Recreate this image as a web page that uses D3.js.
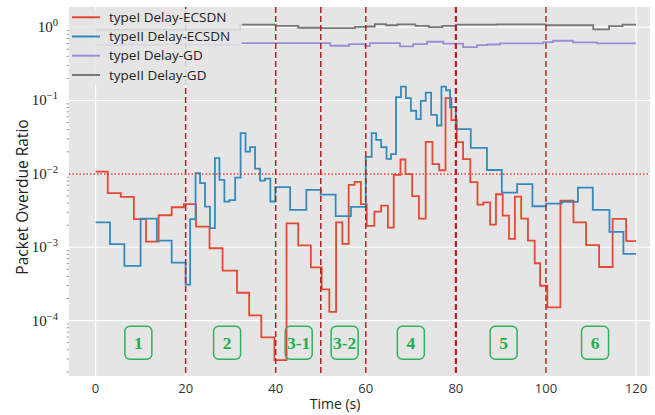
<!DOCTYPE html>
<html lang="en">
<head>
<meta charset="UTF-8">
<script src="https://d3js.org/d3.v7.min.js"></script>
<title>Packet Overdue Ratio</title>
<style>
    body { margin: 0; background: #fff; }
    svg { display: block; }
</style>
</head>
<body>
<script>
// step start times (s) and values
const redT = [0, 2.7, 5.6, 8.5, 11.2, 14.0, 16.9, 19.6, 22.3, 25.3, 28.2, 31.4, 34.1, 36.8, 39.7, 42.4, 45.0, 47.8, 50.2, 51.9,
    53.4, 54.8, 56.2, 57.5, 58.9, 60.2, 61.9, 63.4, 64.9, 66.2, 67.7, 68.8, 70.3, 71.8, 73.3, 74.8, 76.3, 77.7, 79.0, 80.2,
    81.6, 83.2, 84.8, 86.1, 87.6, 88.9, 90.4, 91.8, 93.1, 94.5, 96.0, 97.5, 98.7, 100.3, 103.2, 106.1, 108.9, 111.8, 114.8, 117.8]
const redV = [0.0107, 0.00546, 0.00485, 0.00241, 0.00119, 0.00273, 0.00351, 0.00386, 0.00191, 0.00097, 0.00048, 0.00024, 0.000118, 5.9e-5, 2.9e-5, 0.00212, 0.00106, 0.000533, 0.000267, 0.000132,
    0.00219, 0.00111, 0.00708, 0.00778, 0.00386, 0.00195, 0.00306, 0.0037, 0.00185, 0.0097, 0.0157, 0.0099, 0.00496, 0.00246, 0.0273, 0.0136, 0.0112, 0.108, 0.054, 0.027,
    0.0159, 0.0077, 0.0038, 0.0041, 0.00204, 0.00528, 0.0027, 0.0013, 0.0049, 0.00246, 0.00123, 0.000605, 0.000299, 0.000152, 0.00432, 0.00219, 0.00107, 0.000538, 0.00243, 0.00121]

const blueT = [0, 3.2, 6.4, 10.0, 13.6, 16.9, 20.0, 21.0, 22.2, 23.2, 24.3, 25.4, 26.5, 27.5, 28.6, 29.7, 31.0, 32.2, 33.3, 34.3,
    35.4, 36.5, 37.6, 38.8, 39.9, 43.2, 46.8, 50.0, 53.3, 56.7, 60.0, 61.3, 62.3, 63.4, 64.6, 65.6, 66.7, 67.8, 68.9, 70.0,
    71.2, 72.2, 73.3, 74.5, 75.8, 76.8, 77.8, 78.7, 80.0, 83.3, 86.9, 90.2, 93.6, 97.0, 100.0, 103.5, 107.1, 110.4, 114.1, 117.2]
const blueV = [0.00219, 0.0011, 0.000556, 0.00246, 0.00123, 0.000616, 0.000309, 0.00241, 0.0102, 0.00747, 0.00358, 0.00182, 0.0164, 0.00828, 0.00419, 0.00438, 0.0089, 0.0359, 0.0201, 0.0231,
    0.0118, 0.0081, 0.00863, 0.0042, 0.0066, 0.00323, 0.00605, 0.00522, 0.00265, 0.00355, 0.0171, 0.0359, 0.0291, 0.0231, 0.016, 0.0186, 0.111, 0.155, 0.108, 0.0725,
    0.0557, 0.099, 0.128, 0.0638, 0.0456, 0.155, 0.138, 0.0813, 0.0407, 0.0226, 0.0113, 0.00556, 0.00724, 0.00362, 0.00394, 0.00415, 0.0065, 0.00323, 0.00162, 0.00081]

const purpleT = [0, 32.1, 52.1, 56.3, 59.8, 60.9, 67.6, 70.5, 73.6, 77.2, 81.6, 84.7, 86.9, 89.8, 99.4, 101.6, 106.0, 111.3]
const purpleV = [0.575, 0.607, 0.557, 0.588, 0.55, 0.607, 0.545, 0.588, 0.632, 0.594, 0.535, 0.57, 0.58, 0.6, 0.626, 0.652, 0.618, 0.6]

const grayT = [0, 32.1, 40, 45, 50, 57.6, 60, 62, 64.5, 67, 71, 74, 77, 80, 89, 100, 110.5, 114, 117]
const grayV = [0.92, 1.08, 1.04, 0.98, 0.97, 1.01, 1.02, 1.10, 1.06, 1.09, 1.04, 1.0, 1.04, 1.08, 1.09, 1.06, 0.93, 1.03, 1.08]

const tEnd = 120
const seriesNames = ["typeI Delay-ECSDN", "typeII Delay-ECSDN", "typeI Delay-GD", "typeII Delay-GD"]
const seriesColors = ["#E24A33", "#348ABD", "#988ED5", "#777777"]

const xTicks = [0, 20, 40, 60, 80, 100, 120]
const yTickExp = [0, -1, -2, -3, -4]
const phaseLines = [20, 40, 50, 60, 80, 100]
const threshold = 0.01
const phaseLabels = ["1", "2", "3-1", "3-2", "4", "5", "6"]
const phaseLabelT = [9.5, 29.2, 45.1, 55.3, 70.0, 90.6, 110.9]
const phaseLabelY = 5e-5

const W = 655, H = 415
const pLeft = 69, pRight = 650, pTop = 7, pBottom = 376

const svg = d3.select("body").append("svg")
    .attr("width", W)
    .attr("height", H)

const x = d3.scaleLinear().domain([-5.9, 123.1]).range([pLeft, pRight])
const y = d3.scaleLog().domain([1.76e-5, 1.88]).range([pBottom, pTop])

// background
svg.append("rect")
    .attr("x", pLeft).attr("y", pTop)
    .attr("width", pRight - pLeft).attr("height", pBottom - pTop)
    .attr("fill", "#E5E5E5")

svg.append("clipPath").attr("id", "clip")
    .append("rect")
    .attr("x", pLeft).attr("y", pTop)
    .attr("width", pRight - pLeft).attr("height", pBottom - pTop)

// grid
svg.append("g").selectAll("line")
    .data(xTicks)
    .join("line")
    .attr("x1", d => x(d)).attr("x2", d => x(d))
    .attr("y1", pTop).attr("y2", pBottom)
    .attr("stroke", "#fff").attr("stroke-width", 1.2)

svg.append("g").selectAll("line")
    .data(yTickExp)
    .join("line")
    .attr("x1", pLeft).attr("x2", pRight)
    .attr("y1", d => y(Math.pow(10, d))).attr("y2", d => y(Math.pow(10, d)))
    .attr("stroke", "#fff").attr("stroke-width", 1.2)

// minor ticks on the log axis
const minor = []
for (let e = -5; e <= 0; e++) {
    for (let k = 2; k <= 9; k++) {
        const v = k * Math.pow(10, e)
        if (v > y.domain()[0] && v < y.domain()[1]) minor.push(v)
    }
}
svg.append("g").selectAll("line")
    .data(minor)
    .join("line")
    .attr("x1", pLeft - 2.5).attr("x2", pLeft)
    .attr("y1", d => y(d)).attr("y2", d => y(d))
    .attr("stroke", "#888").attr("stroke-width", 0.8)

// step lines
const line = d3.line()
    .x(d => x(d[0]))
    .y(d => y(d[1]))
    .curve(d3.curveStepAfter)

function steps(ts, vs) {
    const pts = ts.map((t, i) => [t, vs[i]])
    pts.push([tEnd, vs[vs.length - 1]])
    return pts
}

const series = [
    steps(redT, redV),
    steps(blueT, blueV),
    steps(purpleT, purpleV),
    steps(grayT, grayV)
]

const plot = svg.append("g").attr("clip-path", "url(#clip)")

plot.selectAll("path.series")
    .data(series)
    .join("path")
    .attr("class", "series")
    .attr("d", line)
    .attr("fill", "none")
    .attr("stroke", (d, i) => seriesColors[i])
    .attr("stroke-width", 1.8)
    .attr("stroke-linejoin", "miter")

// phase boundaries
plot.selectAll("line.phase")
    .data(phaseLines)
    .join("line")
    .attr("class", "phase")
    .attr("x1", d => x(d)).attr("x2", d => x(d))
    .attr("y1", pTop).attr("y2", pBottom)
    .attr("stroke", "#B22222")
    .attr("stroke-width", d => d === 80 ? 2.2 : 1.5)
    .attr("stroke-dasharray", "6,3")

// 1e-2 threshold
plot.append("line")
    .attr("x1", pLeft).attr("x2", pRight)
    .attr("y1", y(threshold)).attr("y2", y(threshold))
    .attr("stroke", "#FF2A2A")
    .attr("stroke-width", 1.5)
    .attr("stroke-dasharray", "1.5,2")

// phase labels
const boxes = plot.selectAll("g.phaseLabel")
    .data(phaseLabels)
    .join("g")
    .attr("class", "phaseLabel")
    .attr("transform", (d, i) => `translate(${x(phaseLabelT[i])},${y(phaseLabelY)})`)

boxes.append("rect")
    .attr("x", -13.5).attr("y", -16.5)
    .attr("width", 27).attr("height", 33)
    .attr("rx", 5)
    .attr("fill", "none")
    .attr("stroke", "#2DB35A")
    .attr("stroke-width", 1.5)

boxes.append("text")
    .attr("text-anchor", "middle")
    .attr("dy", "0.35em")
    .attr("font-family", "Liberation Serif, serif")
    .attr("font-weight", "bold")
    .attr("font-size", 17.5)
    .attr("fill", "#1FAE4F")
    .text(d => d)

// legend
const legend = svg.append("g")
legend.append("rect")
    .attr("x", pLeft + 1).attr("y", pTop + 2)
    .attr("width", 172).attr("height", 76)
    .attr("fill", "#E5E5E5").attr("opacity", 0.85)

const legendY = [17.3, 36.5, 55.7, 75]
seriesNames.forEach((name, i) => {
    legend.append("line")
        .attr("x1", 72).attr("x2", 100)
        .attr("y1", legendY[i]).attr("y2", legendY[i])
        .attr("stroke", seriesColors[i]).attr("stroke-width", 2)
    legend.append("text")
        .attr("x", 109).attr("y", legendY[i])
        .attr("dy", "0.35em")
        .attr("font-family", "Open Sans, sans-serif")
        .attr("font-size", 13.5)
        .attr("fill", "#222")
        .text(name)
})

// x tick labels
svg.append("g").selectAll("text")
    .data(xTicks)
    .join("text")
    .attr("x", d => x(d)).attr("y", 393)
    .attr("text-anchor", "middle")
    .attr("font-family", "Open Sans, sans-serif")
    .attr("font-size", 13)
    .attr("fill", "#333")
    .text(d => d)

// y tick labels 10^n
const yLab = svg.append("g").selectAll("text")
    .data(yTickExp)
    .join("text")
    .attr("x", 58).attr("y", d => y(Math.pow(10, d)) + 5)
    .attr("text-anchor", "end")
    .attr("font-family", "Liberation Serif, serif")
    .attr("font-size", 15)
    .attr("fill", "#222")
yLab.append("tspan").text("10")
yLab.append("tspan")
    .attr("dy", -6)
    .attr("font-size", 10.5)
    .text(d => d === 0 ? "0" : "\u2212" + (-d))

// axis titles
svg.append("text")
    .attr("x", 335).attr("y", 409)
    .attr("text-anchor", "middle")
    .attr("font-family", "Open Sans, sans-serif")
    .attr("font-size", 14)
    .attr("fill", "#222")
    .text("Time (s)")

svg.append("text")
    .attr("transform", "translate(28,197) rotate(-90)")
    .attr("text-anchor", "middle")
    .attr("font-family", "Open Sans, sans-serif")
    .attr("font-size", 15.5)
    .attr("fill", "#222")
    .text("Packet Overdue Ratio")
</script>
</body>
</html>
